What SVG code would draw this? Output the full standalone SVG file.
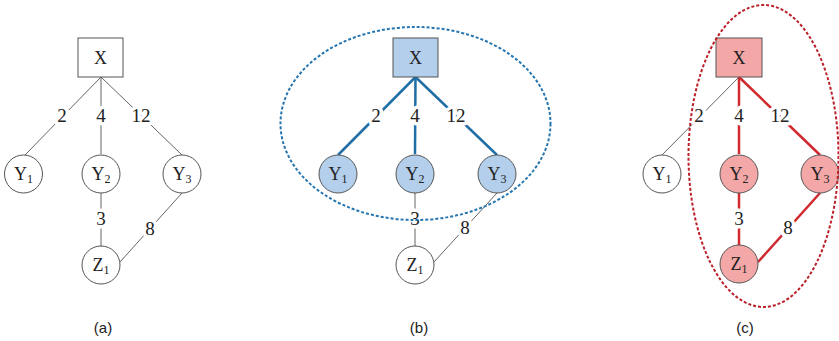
<svg xmlns="http://www.w3.org/2000/svg" width="839" height="341" viewBox="0 0 839 341">
<style>
.e{stroke:#666;stroke-width:1;fill:none}
.eb{stroke:#1f6ea6;stroke-width:2.5;fill:none}
.er{stroke:#d02a2e;stroke-width:2.5;fill:none}
.n{fill:#fff;stroke:#555;stroke-width:1}
.nb{fill:#b3cfeb;stroke:#555;stroke-width:1}
.nr{fill:#f4a7a7;stroke:#555;stroke-width:1}
.t{font-family:"Liberation Serif",serif;font-size:18px;fill:#222;text-anchor:middle}
.s{font-size:12px}
.l{font-family:"Liberation Serif",serif;font-size:19px;fill:#222;text-anchor:middle;paint-order:stroke;stroke:#fff;stroke-width:7px;stroke-linejoin:round}
.c{font-family:"Liberation Sans",sans-serif;font-size:15px;fill:#222;text-anchor:middle}
</style>
<rect width="839" height="341" fill="#fff"/>
<g id="connectors">
<line class="e" x1="101" y1="77" x2="24" y2="156"/>
<line class="e" x1="101" y1="77" x2="101" y2="154"/>
<line class="e" x1="101" y1="77" x2="182" y2="155"/>
<line class="e" x1="101" y1="193" x2="101" y2="246"/>
<line class="e" x1="182" y1="193" x2="120" y2="262"/>
<line class="eb" x1="415.5" y1="77" x2="338" y2="155"/>
<line class="eb" x1="415.5" y1="77" x2="415" y2="154"/>
<line class="eb" x1="415.5" y1="77" x2="497" y2="155"/>
<line class="e" x1="415" y1="193" x2="415" y2="246"/>
<line class="e" x1="497" y1="193" x2="434" y2="262"/>
<line class="e" x1="739" y1="77" x2="662" y2="155"/>
<line class="er" x1="739" y1="77" x2="739" y2="154"/>
<line class="er" x1="739" y1="77" x2="820" y2="155"/>
<line class="er" x1="739" y1="193" x2="739" y2="246"/>
<line class="er" x1="820" y1="193" x2="758" y2="262"/>
<text class="l" x="62" y="122">2</text>
<text class="l" x="101" y="122">4</text>
<text class="l" x="141" y="122">12</text>
<text class="l" x="101" y="225">3</text>
<text class="l" x="150" y="235">8</text>
<text class="l" x="376" y="122">2</text>
<text class="l" x="415" y="122">4</text>
<text class="l" x="456" y="122">12</text>
<text class="l" x="415" y="225">3</text>
<text class="l" x="465" y="234">8</text>
<text class="l" x="699" y="122">2</text>
<text class="l" x="739" y="122">4</text>
<text class="l" x="780" y="122">12</text>
<text class="l" x="739" y="225">3</text>
<text class="l" x="788" y="234">8</text>
</g>
<g id="a-X"><rect class="n" x="78" y="38" width="45" height="39"/><text class="t" x="100.5" y="64">X</text></g>
<g id="a-Y1"><circle class="n" cx="23.5" cy="174" r="19"/><text class="t" x="23.5" y="180">Y<tspan class="s" dy="3">1</tspan></text></g>
<g id="a-Y2"><circle class="n" cx="101" cy="174" r="19"/><text class="t" x="101" y="180">Y<tspan class="s" dy="3">2</tspan></text></g>
<g id="a-Y3"><circle class="n" cx="182" cy="174" r="19"/><text class="t" x="182" y="180">Y<tspan class="s" dy="3">3</tspan></text></g>
<g id="a-Z1"><circle class="n" cx="101" cy="265" r="19"/><text class="t" x="101" y="271">Z<tspan class="s" dy="3">1</tspan></text></g>
<g id="b-X"><rect class="nb" x="393" y="38" width="45" height="39"/><text class="t" x="415.5" y="64">X</text></g>
<g id="b-Y1"><circle class="nb" cx="338" cy="174" r="19"/><text class="t" x="338" y="180">Y<tspan class="s" dy="3">1</tspan></text></g>
<g id="b-Y2"><circle class="nb" cx="415" cy="174" r="19"/><text class="t" x="415" y="180">Y<tspan class="s" dy="3">2</tspan></text></g>
<g id="b-Y3"><circle class="nb" cx="497" cy="174" r="19"/><text class="t" x="497" y="180">Y<tspan class="s" dy="3">3</tspan></text></g>
<g id="b-Z1"><circle class="n" cx="415" cy="265" r="19"/><text class="t" x="415" y="271">Z<tspan class="s" dy="3">1</tspan></text></g>
<g id="c-X"><rect class="nr" x="716" y="38" width="46" height="39"/><text class="t" x="739" y="64">X</text></g>
<g id="c-Y1"><circle class="n" cx="662" cy="174" r="19"/><text class="t" x="662" y="180">Y<tspan class="s" dy="3">1</tspan></text></g>
<g id="c-Y2"><circle class="nr" cx="739" cy="174" r="19"/><text class="t" x="739" y="180">Y<tspan class="s" dy="3">2</tspan></text></g>
<g id="c-Y3"><circle class="nr" cx="820" cy="174" r="19"/><text class="t" x="820" y="180">Y<tspan class="s" dy="3">3</tspan></text></g>
<g id="c-Z1"><circle class="nr" cx="739" cy="264" r="19"/><text class="t" x="739" y="270">Z<tspan class="s" dy="3">1</tspan></text></g>
<g id="groups">
<ellipse cx="415.5" cy="123.5" rx="135" ry="96.5" fill="none" stroke="#2475b0" stroke-width="2" stroke-dasharray="3 2"/>
<ellipse cx="763.5" cy="156" rx="75" ry="151" fill="none" stroke="#bb2029" stroke-width="2" stroke-dasharray="3 2"/>
</g>
<g id="captions">
<text class="c" x="103" y="333">(a)</text>
<text class="c" x="419" y="333">(b)</text>
<text class="c" x="745" y="333">(c)</text>
</g>
</svg>
